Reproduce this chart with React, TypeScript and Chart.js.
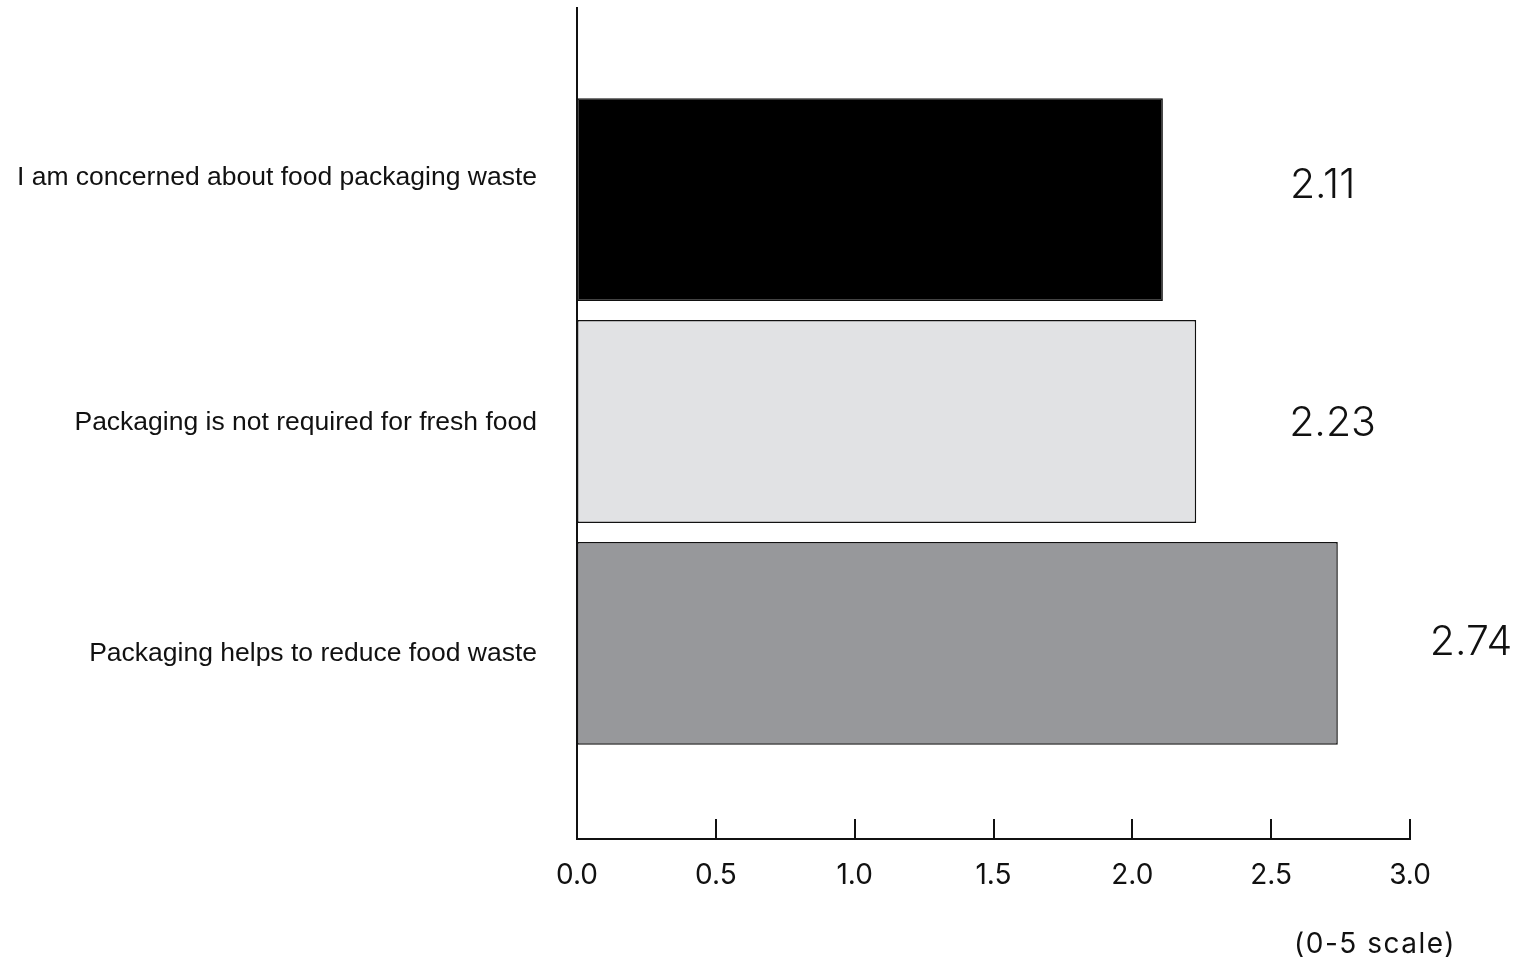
import React, { useEffect, useRef } from "react";
import { Chart, registerables } from "chart.js";

Chart.register(...registerables);

const categories = [
  "I am concerned about food packaging waste",
  "Packaging is not required for fresh food",
  "Packaging helps to reduce food waste",
];
const values = [2.11, 2.23, 2.74];
const valueLabels = ["2.11", "2.23", "2.74"];
const barColors = ["#000000", "#e1e2e4", "#97989b"];
const xTickValues = [0, 0.5, 1, 1.5, 2, 2.5, 3];
const scaleNote = "(0-5 scale)";

// small visual nudges of the category labels (in category units)
const labelShift = [-0.1, 0.007, 0.045];

const labelOffsets = [
  { dx: 127, dy: -14 },
  { dx: 93, dy: 2 },
  { dx: 92, dy: -1 },
];

const decorPlugin = {
  id: "decor",
  afterDraw(chart: any) {
    const ctx = chart.ctx;
    const xs = chart.scales.x;
    const area = chart.chartArea;
    ctx.save();
    ctx.strokeStyle = "#111";
    ctx.lineWidth = 2;
    xTickValues.forEach((v) => {
      const px = Math.round(xs.getPixelForValue(v));
      ctx.beginPath();
      ctx.moveTo(px, area.bottom);
      ctx.lineTo(px, area.bottom - 20);
      ctx.stroke();
    });
    const meta = chart.getDatasetMeta(0);
    ctx.fillStyle = "#111";
    ctx.font = "300 41px Inter";
    ctx.textAlign = "left";
    ctx.textBaseline = "middle";
    meta.data.forEach((bar: any, i: number) => {
      const off = labelOffsets[i];
      ctx.fillText(valueLabels[i], bar.x + off.dx, bar.y + off.dy);
    });
    ctx.font = "400 28px Inter";
    (ctx as any).letterSpacing = "1.5px";
    ctx.textAlign = "center";
    ctx.fillText(scaleNote, area.right - 35, 945);
    ctx.restore();
  },
};

export default function App() {
  const ref = useRef<HTMLCanvasElement | null>(null);
  useEffect(() => {
    if (!ref.current) return;
    const chart = new Chart(ref.current, {
      type: "bar",
      data: {
        datasets: [
          {
            data: values.map((v, i) => ({ x: v, y: i })) as any,
            backgroundColor: barColors,
            borderColor: "#111",
            borderWidth: 1.5,
            borderSkipped: false,
            barPercentage: 0.914,
            categoryPercentage: 1,
          },
        ],
      },
      options: {
        indexAxis: "y",
        animation: false,
        responsive: false,
        layout: { padding: { top: 8, right: 111, left: 0, bottom: 0 } },
        plugins: { legend: { display: false }, tooltip: { enabled: false } },
        scales: {
          x: {
            type: "linear",
            min: 0,
            max: 3,
            grid: { display: false, drawTicks: false },
            border: { display: true, color: "#111", width: 2 },
            ticks: {
              stepSize: 0.5,
              padding: 20,
              color: "#111",
              font: { family: "Inter", size: 28 },
              callback: (v: any) => Number(v).toFixed(1),
            },
            afterFit: (s: any) => {
              s.height = 124;
              s.paddingLeft = 0;
              s.paddingRight = 0;
            },
          },
          y: {
            type: "linear",
            reverse: true,
            offset: false,
            min: -0.864,
            max: 2.882,
            grid: { display: false, drawTicks: false, offset: false },
            border: { display: true, color: "#111", width: 2 },
            afterBuildTicks: (s: any) => {
              s.ticks = categories.map((_, i) => ({ value: i + labelShift[i] }));
            },
            ticks: {
              padding: 40,
              color: "#111",
              font: { family: "'Liberation Sans', Arial, sans-serif", size: 26.5 },
              callback: (v: any) => categories[Math.round(Number(v))] ?? "",
            },
            afterFit: (s: any) => {
              s.width = 577;
              s.paddingTop = 0;
              s.paddingBottom = 0;
            },
          },
        },
      },
      plugins: [decorPlugin],
    });
    return () => chart.destroy();
  }, []);
  return (
    <div style={{ position: "absolute", left: 0, top: 0, width: 1521, height: 963 }}>
      <canvas ref={ref} width={1521} height={963} style={{ display: "block" }} />
    </div>
  );
}
